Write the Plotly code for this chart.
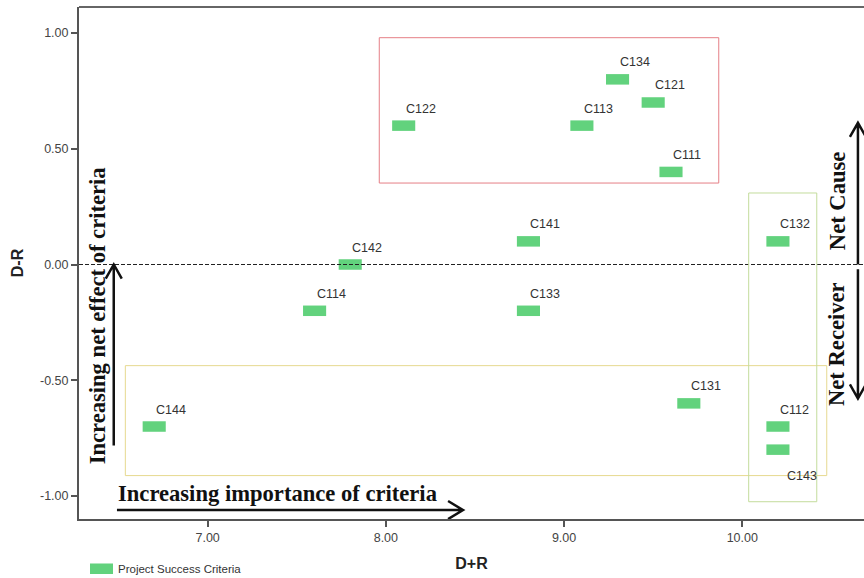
import plotly.graph_objects as go

# Influential relation map: D+R (prominence) vs D-R (relation) per criterion
criteria = ["C122", "C113", "C134", "C121", "C111", "C132", "C141", "C142",
            "C114", "C133", "C131", "C112", "C143", "C144"]
d_plus_r = [8.10, 9.10, 9.30, 9.50, 9.60, 10.20, 8.80, 7.80,
            7.60, 8.80, 9.70, 10.20, 10.20, 6.70]
d_minus_r = [0.60, 0.60, 0.80, 0.70, 0.40, 0.10, 0.10, 0.00,
             -0.20, -0.20, -0.60, -0.70, -0.80, -0.70]

x_ticks = [7.0, 8.0, 9.0, 10.0]
y_ticks = [-1.0, -0.5, 0.0, 0.5, 1.0]

GREEN = "#62d27d"
SANS = "Liberation Sans, Arial, sans-serif"
SERIF = "Liberation Serif, Times New Roman, serif"

X_RANGE = [6.278, 10.683]
Y_RANGE = [-1.0996, 1.1126]

fig = go.Figure()

fig.add_trace(go.Scatter(
    x=d_plus_r, y=d_minus_r, mode="markers",
    name="Project Success Criteria",
    marker=dict(symbol="line-ew", size=16.5, color=GREEN,
                line=dict(color=GREEN, width=10.5)),
    showlegend=False, hoverinfo="text", text=criteria,
))

# Criterion labels sit above-right of each mark; C143 goes below to avoid C112
annotations = []
for name, xv, yv in zip(criteria, d_plus_r, d_minus_r):
    below = name == "C143"
    annotations.append(dict(
        x=xv, y=yv, xref="x", yref="y", text=name, showarrow=False,
        xanchor="left", yanchor="middle",
        xshift=7 if below else 0, yshift=-26 if below else 17,
        font=dict(family=SANS, size=12.5, color="#333333"),
    ))

# Explanatory bold serif captions
cap_font = dict(family=SERIF, size=22.6, color="#111111")
annotations += [
    dict(x=7.394, y=-0.989, xref="x", yref="y", text="<b>Increasing importance of criteria</b>",
         showarrow=False, xanchor="center", yanchor="middle", font=cap_font),
    dict(x=6.379, y=-0.224, xref="x", yref="y", text="<b>Increasing net effect of criteria</b>",
         showarrow=False, textangle=-90, xanchor="center", yanchor="middle", font=cap_font),
    dict(x=10.532, y=0.274, xref="x", yref="y", text="<b>Net Cause</b>",
         showarrow=False, textangle=-90, xanchor="center", yanchor="middle", font=cap_font),
    dict(x=10.532, y=-0.343, xref="x", yref="y", text="<b>Net Receiver</b>",
         showarrow=False, textangle=-90, xanchor="center", yanchor="middle", font=cap_font),
    # legend entry text
    dict(x=0.0471, y=-0.0977, xref="paper", yref="paper", text="Project Success Criteria",
         showarrow=False, xanchor="left", yanchor="middle",
         font=dict(family=SANS, size=11.5, color="#333333")),
]

shapes = [
    # zero reference line
    dict(type="line", xref="paper", yref="y", x0=0, x1=1, y0=0, y1=0,
         line=dict(color="#222222", width=1, dash="4px,2px")),
    # top frame line
    dict(type="line", xref="paper", yref="paper", x0=0, x1=1, y0=1, y1=1,
         line=dict(color="#666666", width=2)),
    # grouping boxes
    dict(type="rect", xref="x", yref="y", x0=7.963, x1=9.868, y0=0.352, y1=0.980,
         line=dict(color="#e57f86", width=1)),
    dict(type="rect", xref="x", yref="y", x0=6.538, x1=10.474, y0=-0.912, y1=-0.437,
         line=dict(color="#e6d990", width=1)),
    dict(type="rect", xref="x", yref="y", x0=10.036, x1=10.418, y0=-1.025, y1=0.309,
         line=dict(color="#c3dc9c", width=1)),
    # legend swatch
    dict(type="rect", xref="paper", yref="paper", x0=0.014, x1=0.0433, y0=-0.1074, y1=-0.0869,
         fillcolor=GREEN, line=dict(width=0)),
]

# Hand-drawn style arrows with open chevron heads
arrow_line = dict(color="#111111", width=2.5)
hx0, hx1, hy = 6.491, 8.433, -1.061
shapes.append(dict(type="path", xref="x", yref="y", line=arrow_line,
                   path=f"M{hx0},{hy} L{hx1},{hy} M{hx1-0.084},{hy+0.039} L{hx1},{hy} L{hx1-0.084},{hy-0.039}"))
vx, vy0, vy1 = 6.473, -0.782, 0.0
shapes.append(dict(type="path", xref="x", yref="y", line=arrow_line,
                   path=f"M{vx},{vy0} L{vx},{vy1} M{vx-0.045},{vy1-0.061} L{vx},{vy1} L{vx+0.045},{vy1-0.061}"))
ax = 10.649
shapes.append(dict(type="path", xref="x", yref="y", line=arrow_line,
                   path=f"M{ax},0.0 L{ax},0.612 M{ax-0.045},0.551 L{ax},0.612 L{ax+0.045},0.551"))
shapes.append(dict(type="path", xref="x", yref="y", line=arrow_line,
                   path=f"M{ax},-0.02 L{ax},-0.579 M{ax-0.045},-0.518 L{ax},-0.579 L{ax+0.045},-0.518"))

fig.update_layout(
    width=864, height=578,
    margin=dict(l=79, r=0, t=7, b=59),
    paper_bgcolor="white", plot_bgcolor="white",
    showlegend=False,
    annotations=annotations, shapes=shapes,
    xaxis=dict(
        range=X_RANGE, tickvals=x_ticks, ticktext=[f"{v:.2f}" for v in x_ticks],
        showgrid=False, zeroline=False, showline=True, linecolor="#555555", linewidth=2,
        ticks="outside", ticklen=6, tickcolor="#555555", tickwidth=1.5,
        tickfont=dict(family=SANS, size=12.5, color="#444444"),
        title=dict(text="<b>D+R</b>", font=dict(family=SANS, size=16, color="#222222"), standoff=14),
    ),
    yaxis=dict(
        range=Y_RANGE, tickvals=y_ticks, ticktext=[f"{v:.2f}" for v in y_ticks],
        showgrid=False, zeroline=False, showline=True, linecolor="#555555", linewidth=2,
        ticks="outside", ticklen=6, tickcolor="#555555", tickwidth=1.5,
        tickfont=dict(family=SANS, size=12.5, color="#444444"),
        title=dict(text="<b>D-R</b>", font=dict(family=SANS, size=16, color="#222222"), standoff=12),
    ),
)

fig.write_html("out.html")
